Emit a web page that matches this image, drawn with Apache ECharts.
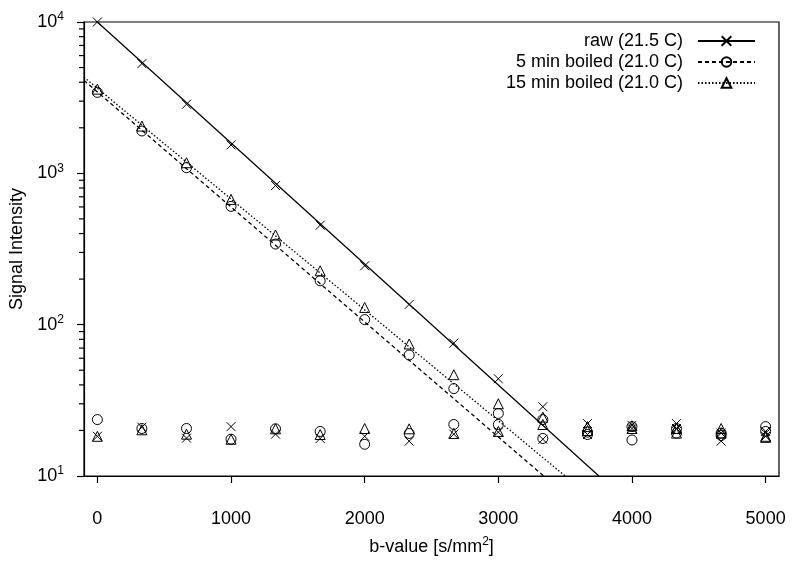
<!DOCTYPE html>
<html><head><meta charset="utf-8">
<script src="https://cdn.jsdelivr.net/npm/echarts@6/dist/echarts.min.js"></script>
<style>html,body{margin:0;padding:0;background:#fff}#c{width:800px;height:561px}</style>
</head><body><div id="c"></div>
<script>
// ---- data ----
const bValues = [0, 333, 667, 1000, 1333, 1667, 2000, 2333, 2667, 3000, 3333, 3667, 4000, 4333, 4667, 5000];
const seriesNames = ['raw (21.5 C)', '5 min boiled (21.0 C)', '15 min boiled (21.0 C)'];
const rawSignal = [10000, 5310, 2860, 1541, 830, 454, 245, 136, 75.5, 43.9, 28.7, 22.2, 21.6, 22.2, 19.2, 19.7];
const rawNoise = [18.3, 21.0, 17.8, 21.2, 18.9, 17.7, 18.3, 17.0, 18.9, 19.5, 17.5, 18.8, 20.6, 20.6, 17.0, 18.3];
const boiled5Signal = [3428, 1905, 1090, 605, 341, 195, 108, 63, 37.8, 25.9, 23.6, 19.5, 21.2, 20.6, 19.2, 21.2];
const boiled5Noise = [23.6, 20.6, 20.6, 17.5, 20.5, 19.7, 16.2, 19.1, 21.9, 21.9, 17.7, 18.8, 17.3, 19.2, 18.5, 19.7];
const boiled15Signal = [3600, 2052, 1175, 673, 391, 227, 130, 74.5, 46.7, 30.0, 24.5, 21.2, 21.5, 20.6, 20.6, 18.3];
const boiled15Noise = [18.3, 20.2, 18.9, 17.5, 20.5, 18.8, 20.6, 20.5, 19.1, 19.7, 21.9, 20.0, 20.6, 19.2, 19.2, 18.0];
// mono-exponential fits S = A * exp(-b * D)
const fitAmplitude = [10000, 3450, 3650];
const fitDecay = [1.841e-3, 1.750e-3, 1.686e-3];
const xRange = [-100, 5100];
const xTicks = [0, 1000, 2000, 3000, 4000, 5000];
const yMinorTicks = [20, 30, 40, 50, 60, 70, 80, 90, 200, 300, 400, 500, 600, 700, 800, 900, 2000, 3000, 4000, 5000, 6000, 7000, 8000, 9000];

// ---- styles ----
const FONT = 'Liberation Sans';
const symbols = ['path://M0,0L1,1M1,0L0,1', 'circle', 'triangle'];
const symbolSizes = [9, 10, 10];
const lineTypes = ['solid', [4, 3], [1.5, 2]];
const signals = [rawSignal, boiled5Signal, boiled15Signal];
const noises = [rawNoise, boiled5Noise, boiled15Noise];

const series = [];
seriesNames.forEach((name, i) => {
  const fitData = xRange.map(b => [b, fitAmplitude[i] * Math.exp(-b * fitDecay[i])]);
  series.push({
    name: name, type: 'line', data: fitData, showSymbol: false,
    symbol: symbols[i], symbolSize: symbolSizes[i], clip: true, silent: true,
    lineStyle: { color: '#000', width: 1.3, type: lineTypes[i] },
    itemStyle: { color: 'rgba(255,255,255,0)', borderColor: '#000', borderWidth: 1 },
    z: 2
  });
  [signals[i], noises[i]].forEach((arr, k) => {
    series.push({
      name: name + (k ? ' noise' : ' signal'), type: 'scatter',
      data: bValues.map((b, j) => [b, arr[j]]),
      symbol: symbols[i], symbolSize: symbolSizes[i], silent: true,
      itemStyle: { color: 'rgba(255,255,255,0)', borderColor: '#000', borderWidth: 1, opacity: 1 },
      z: 3
    });
  });
});
// minor log ticks on the left axis
series.push({
  name: 'minor ticks', type: 'scatter', silent: true, clip: false,
  data: yMinorTicks.map(v => [xRange[0], v]),
  symbol: 'rect', symbolSize: [5, 1.2], symbolOffset: [-2.5, 0],
  itemStyle: { color: '#000', opacity: 1 },
  z: 5
});

const chart = echarts.init(document.getElementById('c'), null, { renderer: 'canvas' });
chart.setOption({
  animation: false,
  backgroundColor: '#fff',
  textStyle: { fontFamily: FONT, color: '#000' },
  grid: { left: 84, right: 21, top: 22, bottom: 81, show: true, borderColor: '#000', borderWidth: 1.2, backgroundColor: 'transparent' },
  legend: {
    data: seriesNames, orient: 'vertical', right: 39, top: 27, align: 'right',
    itemWidth: 57, itemHeight: 12, itemGap: 3,
    textStyle: { fontFamily: FONT, fontSize: 18, color: '#000', padding: [0, 10, 0, 0] }
  },
  xAxis: {
    type: 'value', min: xRange[0], max: xRange[1],
    name: 'b-value [s/mm{sup|2}]', nameLocation: 'middle', nameGap: 60,
    nameTextStyle: { fontFamily: FONT, fontSize: 18, color: '#000', rich: { sup: { fontSize: 12, verticalAlign: 'top', padding: [0, 0, 10, 0], fontFamily: FONT } } },
    axisLine: { show: true, onZero: false, lineStyle: { color: '#000', width: 1.2 } },
    axisTick: { show: true, length: 7, customValues: xTicks, lineStyle: { color: '#000', width: 1.2 } },
    axisLabel: { customValues: xTicks, margin: 34, fontSize: 18, fontFamily: FONT, color: '#000', formatter: v => String(v) },
    splitLine: { show: false }
  },
  yAxis: {
    type: 'log', logBase: 10, min: 10, max: 10000,
    name: 'Signal Intensity', nameLocation: 'middle', nameGap: 52,
    nameTextStyle: { fontFamily: FONT, fontSize: 18, color: '#000' },
    axisLine: { show: true, onZero: false, lineStyle: { color: '#000', width: 1.2 } },
    axisTick: { show: true, length: 7, lineStyle: { color: '#000', width: 1.2 } },
    axisLabel: {
      margin: 20, fontFamily: FONT, color: '#000',
      formatter: v => '{b|10}{s|' + Math.round(Math.log10(v)) + '}',
      rich: { b: { fontSize: 18, fontFamily: FONT, color: '#000' }, s: { fontSize: 12, fontFamily: FONT, color: '#000', verticalAlign: 'top', padding: [0, 0, 10, 0] } }
    },
    splitLine: { show: false }
  },
  series: series
});
</script></body></html>
